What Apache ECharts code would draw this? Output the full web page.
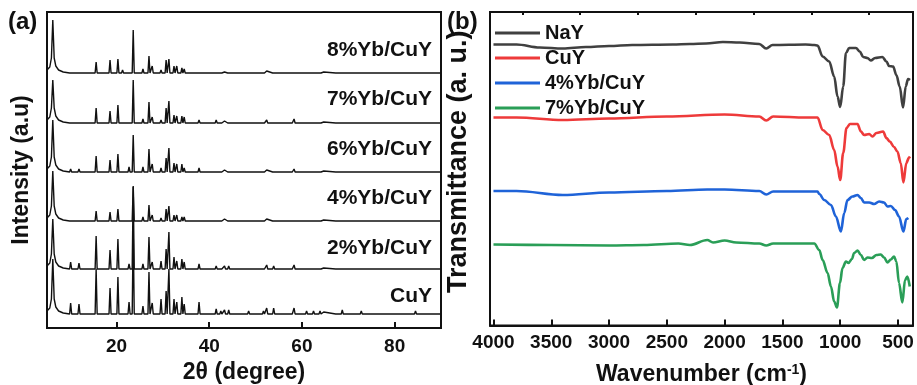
<!DOCTYPE html>
<html><head><meta charset="utf-8">
<script src="https://cdn.jsdelivr.net/npm/echarts@6/dist/echarts.min.js"></script>
<style>html,body{margin:0;padding:0;background:#fff}#c{width:917px;height:385px}</style>
</head><body><div id="c"></div>
<script>
// ---------- Panel (a): XRD ----------
const xrdNames = ['CuY', '2%Yb/CuY', '4%Yb/CuY', '6%Yb/CuY', '7%Yb/CuY', '8%Yb/CuY'];
const xrdPeaks2Theta = [6.25, 10.1, 11.9, 15.6, 18.6, 20.3, 21.3, 22.7, 23.6, 25.7, 27.0, 27.7, 29.6, 30.7, 31.3, 32.4, 33.0, 34.1, 34.6, 37.8,
  41.5, 42.5, 43.3, 44.2, 47.4, 48.5, 50.5, 51.7, 52.4, 53.9, 57.7, 58.3, 61.0, 62.5, 63.9, 64.7, 67.5, 68.7, 70.3, 72.8, 75.0, 78.0, 81.0, 84.5];
const xrdCuY = [55, 11, 10, 45, 26, 37, 2, 12, 85, 8, 42, 11, 15, 23, 45, 15, 12, 17, 10, 12, 5, 3, 4, 4, 2, 3, 2, 3, 6, 6, 2, 6, 3, 3, 3, 2, 2, 4, 2, 3, 2, 2, 2, 3];
const xrd2Yb = [50, 7, 6, 33, 19, 30, 2, 5, 82, 5, 32, 7, 8, 20, 37, 12, 8, 10, 7, 5, 3, 2, 3, 3, 1, 2, 1, 2, 4, 3, 1, 4, 2, 2, 2, 1, 1, 2, 1, 2, 1, 1, 1, 2];
const xrd4Yb = [50, 1, 1, 10, 9, 12, 2, 2, 35, 4, 16, 6, 3, 12, 15, 6, 6, 4, 4, 2, 2, 1, 2, 2, 1, 1, 1, 1, 2, 2, 1, 2, 1, 1, 1, 1, 1, 1, 1, 1, 1, 1, 1, 1];
const xrd6Yb = [52, 3, 3, 16, 12, 18, 2, 5, 37, 5, 23, 8, 4, 14, 24, 9, 8, 8, 4, 4, 2, 1, 2, 2, 1, 1, 1, 1, 2, 2, 1, 3, 1, 1, 1, 1, 1, 1, 1, 1, 1, 1, 1, 1];
const xrd7Yb = [43, 1, 2, 15, 12, 18, 2, 2, 43, 4, 21, 6, 3, 15, 22, 8, 7, 7, 6, 3, 3, 1, 2, 2, 1, 1, 1, 1, 3, 2, 1, 4, 1, 1, 2, 1, 1, 1, 1, 1, 1, 1, 1, 1];
const xrd8Yb = [53, 1, 1, 11, 13, 14, 3, 2, 43, 4, 17, 7, 3, 13, 14, 7, 7, 5, 4, 2, 2, 1, 1, 1, 1, 1, 1, 1, 2, 2, 1, 2, 1, 1, 1, 1, 1, 1, 1, 1, 1, 1, 1, 1];
const xrdOffsets = [14, 59, 107, 156, 205, 255];
// low-angle wing of the first (111) reflection, [2theta, a.u.]
const xrdFirstPeakWing = [[5.0, 3], [5.6, 6], [5.95, 15], [6.55, 15], [6.9, 7], [7.5, 3], [8.5, 1]];
const xrdTickValues = [20, 40, 60, 80];

// ---------- Panel (b): FTIR ----------
const ftirNames = ['NaY', 'CuY', '4%Yb/CuY', '7%Yb/CuY'];
const ftirNaY = [[4000,281],[3800,281],[3600,278],[3400,277],[3200,278.5],[3000,279.5],[2800,280.5],[2450,281],[2300,281.5],[2160,282],[2015,283.5],[1870,283],[1700,281.5],[1640,277],[1585,280.5],[1300,281],[1224,280.5],[1196,280],[1152,269],[1095,264],[1052,249],[1023,229],[1000,218.5],[974,239],[950,272.5],[922,277.5],[864,277.5],[830,274],[801,268.5],[764,267.5],[735,265],[698,267.5],[635,268.5],[600,264],[577,259.5],[542,259],[514,250.5],[485,239],[456,218],[433,239],[413,246.5],[396,245.5]];
const ftirCuY = [[4000,208],[3800,208],[3400,205.5],[3000,207],[2500,209],[2000,211],[1700,209],[1640,205],[1580,209],[1300,208],[1196,208],[1152,195.5],[1095,190.5],[1052,175.5],[1023,159],[1000,145.5],[974,172.5],[945,197.5],[916,201.5],[850,201.5],[821,194],[793,190.5],[749,191.5],[721,189],[686,192.5],[629,194],[600,187.5],[571,184],[534,178.5],[505,174],[476,162.5],[453,143],[428,162.5],[404,168],[396,169]];
const ftir4Yb = [[4000,134.5],[3800,134.5],[3400,130.5],[3000,133],[2500,134.5],[2150,136],[2000,136],[1700,134.5],[1640,131],[1580,134],[1300,134],[1196,134],[1181,131.5],[1138,125.5],[1080,120.5],[1037,109],[994,94],[965,112.5],[937,125.5],[894,129],[850,130.5],[821,127.5],[793,123],[749,123],[706,121.5],[663,124],[620,123],[591,119],[562,119.5],[525,115.5],[491,109],[453,94],[428,106.5],[410,107.5]];
const ftir7Yb = [[4000,81],[3500,80.5],[3000,80],[2700,80.5],[2400,82],[2300,80.5],[2150,85.5],[2100,83],[2000,85],[1900,83],[1700,82],[1640,80],[1580,82],[1300,82],[1224,82],[1181,75.5],[1152,65.5],[1109,52.5],[1080,39],[1052,24],[1028,18],[1002,42.5],[980,57.5],[950,64],[928,62.5],[899,66.5],[879,72.5],[850,75],[821,70.5],[793,65.5],[764,68],[726,67.5],[686,70.5],[649,71],[620,68],[591,63],[562,66],[534,69],[514,64],[491,42.5],[462,23],[439,45.5],[419,49],[398,39]];
const ftirMajorTicks = [4000, 3500, 3000, 2500, 2000, 1500, 1000, 500];
const ftirMinorTicks = [3750, 3250, 2750, 2250, 1750, 1250, 750];

const FONT = 'Liberation Sans, Arial, sans-serif';
const xrdSets = [xrdCuY, xrd2Yb, xrd4Yb, xrd6Yb, xrd7Yb, xrd8Yb];

function buildPattern(heights, offset) {
  const pts = [];
  xrdFirstPeakWing.forEach(p => pts.push([p[0], offset + p[1]]));
  xrdPeaks2Theta.forEach((t, i) => {
    if (i === 0) { pts.push([t, offset + heights[i]]); return; }
    pts.push([t - 0.22, offset], [t, offset + heights[i]], [t + 0.22, offset]);
  });
  pts.push([90, offset]);
  pts.sort((a, b) => a[0] - b[0]);
  return pts;
}

const ftirSets = [ftirNaY, ftirCuY, ftir4Yb, ftir7Yb];
const ftirColors = ['#404040', '#ee3a3a', '#1f63d8', '#2a9e57'];

const series = [];
xrdSets.forEach((h, i) => series.push({
  name: 'XRD ' + xrdNames[i], type: 'line', xAxisIndex: 0, yAxisIndex: 0,
  data: buildPattern(h, xrdOffsets[i]), showSymbol: false, silent: true,
  lineStyle: { color: '#111', width: 1.4 }, itemStyle: { color: '#111' }
}));
ftirSets.forEach((d, i) => series.push({
  name: ftirNames[i], type: 'line', xAxisIndex: 1, yAxisIndex: 1,
  data: d, showSymbol: false, smooth: 0.35, smoothMonotone: 'x',
  lineStyle: { color: ftirColors[i], width: 2.6 }, itemStyle: { color: ftirColors[i] }
}));

const labelY = [296, 248, 198, 149, 99, 50];
const graphics = [
  { type: 'text', left: 8, top: 10, style: { text: '(a)', font: 'bold 24px ' + FONT, fill: '#111' } },
  { type: 'text', left: 447, top: 10, style: { text: '(b)', font: 'bold 24px ' + FONT, fill: '#111' } }
];
xrdNames.forEach((n, i) => graphics.push({
  type: 'text', x: 432, y: labelY[i],
  style: { text: n, font: 'bold 21px ' + FONT, fill: '#111', align: 'right', verticalAlign: 'middle' }
}));

const plain = v => String(v);
const chart = echarts.init(document.getElementById('c'), null, { renderer: 'canvas' });
chart.setOption({
  backgroundColor: '#fff',
  animation: false,
  textStyle: { fontFamily: FONT },
  grid: [
    { left: 47, top: 12, width: 394, height: 316, show: true, borderColor: '#111', borderWidth: 2, outerBoundsMode: 'none', containLabel: false },
    { left: 490, top: 12, width: 423, height: 313.5, show: true, borderColor: '#111', borderWidth: 2, outerBoundsMode: 'none', containLabel: false }
  ],
  xAxis: [
    { type: 'value', gridIndex: 0, min: 5, max: 90,
      name: '2θ (degree)', nameLocation: 'middle', nameGap: 25,
      nameTextStyle: { fontSize: 23, fontWeight: 'bold', color: '#111', fontFamily: FONT },
      axisLine: { show: true, lineStyle: { color: '#111', width: 2 } },
      axisTick: { show: true, inside: true, length: 6, customValues: xrdTickValues, lineStyle: { color: '#111', width: 2 } },
      axisLabel: { customValues: xrdTickValues, formatter: plain, fontSize: 19, fontWeight: 'bold', color: '#111', margin: 9 },
      splitLine: { show: false } },
    { type: 'value', gridIndex: 1, min: 370, max: 4030, inverse: true,
      name: 'Wavenumber (cm{sup|-1})', nameLocation: 'middle', nameGap: 38,
      nameTextStyle: { fontSize: 23, fontWeight: 'bold', color: '#111', fontFamily: FONT,
        rich: { sup: { fontSize: 14, fontWeight: 'bold', color: '#111', verticalAlign: 'top', padding: [0, 0, 9, 0] } } },
      axisLine: { show: true, lineStyle: { color: '#111', width: 2 } },
      axisTick: { show: true, inside: true, length: 6, customValues: ftirMajorTicks, lineStyle: { color: '#111', width: 2 } },
      axisLabel: { customValues: ftirMajorTicks, formatter: plain, fontSize: 19, fontWeight: 'bold', color: '#111', margin: 8 },
      splitLine: { show: false } },
    { type: 'value', gridIndex: 1, min: 370, max: 4030, inverse: true,
      axisLine: { show: false },
      axisTick: { show: true, inside: true, length: 3, customValues: ftirMinorTicks, lineStyle: { color: '#111', width: 2 } },
      axisLabel: { show: false }, splitLine: { show: false } }
  ],
  yAxis: [
    { type: 'value', gridIndex: 0, min: 0, max: 316,
      name: 'Intensity (a.u)', nameLocation: 'middle', nameGap: 14,
      nameTextStyle: { fontSize: 23, fontWeight: 'bold', color: '#111', fontFamily: FONT },
      axisLine: { show: false }, axisTick: { show: false }, axisLabel: { show: false }, splitLine: { show: false } },
    { type: 'value', gridIndex: 1, min: 0, max: 313.5,
      name: 'Transmittance (a. u.)', nameLocation: 'middle', nameGap: 18,
      nameTextStyle: { fontSize: 27, fontWeight: 'bold', color: '#111', fontFamily: FONT, padding: [0, 0, 0, 14] },
      axisLine: { show: false }, axisTick: { show: false }, axisLabel: { show: false }, splitLine: { show: false } }
  ],
  legend: {
    data: ftirNames, orient: 'vertical', left: 495, top: 23, padding: 0, itemGap: 5,
    itemWidth: 45, itemHeight: 3, icon: 'rect',
    textStyle: { fontSize: 20, fontWeight: 'bold', color: '#111', lineHeight: 20, fontFamily: FONT }
  },
  graphic: graphics,
  series: series
});
</script></body></html>
